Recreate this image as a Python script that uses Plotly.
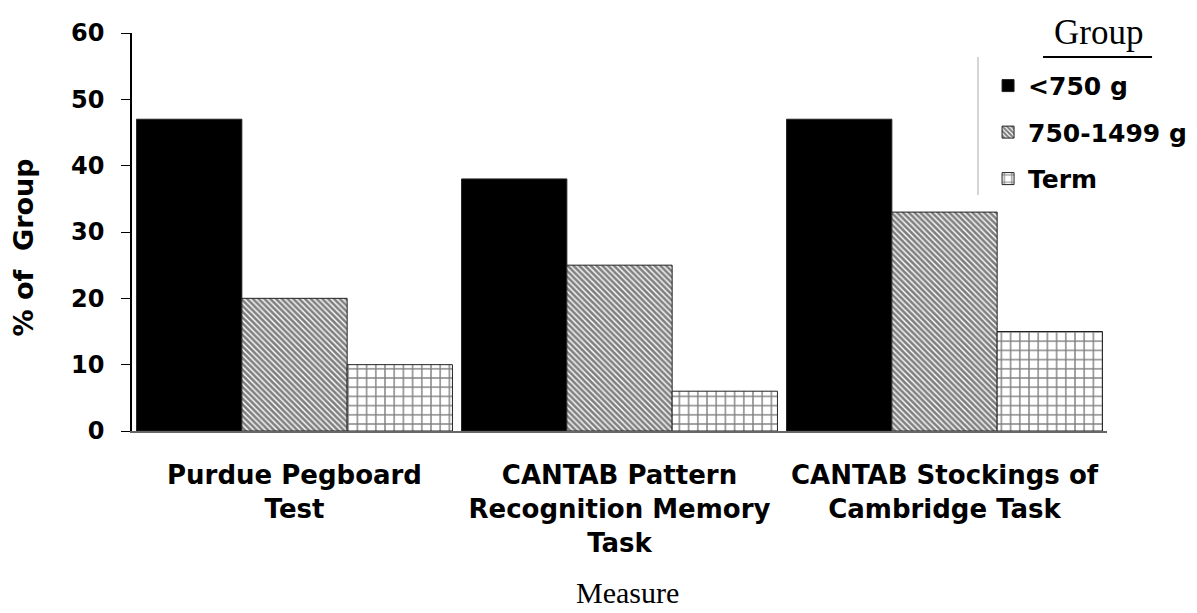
import plotly.graph_objects as go

categories = ["Purdue Pegboard<br>Test",
              "CANTAB Pattern<br>Recognition Memory<br>Task",
              "CANTAB Stockings of<br>Cambridge Task"]
groups = ["<750 g", "750-1499 g", "Term"]
vals_lt750 = [47, 38, 47]
vals_750_1499 = [20, 25, 33]
vals_term = [10, 6, 15]
y_ticks = [0, 10, 20, 30, 40, 50, 60]

series = [vals_lt750, vals_750_1499, vals_term]
patterns = [dict(shape=""),
            dict(shape="\\", size=4.1, solidity=0.65, fgcolor="black", bgcolor="white"),
            dict(shape="+", size=9.2, solidity=0.28, fgcolor="black", bgcolor="white")]
colors = ["black", "white", "white"]

SANS = "DejaVu Sans"
SERIF = "Liberation Serif, Times New Roman, serif"

fig = go.Figure()
for i, (name, vals) in enumerate(zip(groups, series)):
    fig.add_trace(go.Bar(
        x=categories, y=vals, name=name,
        legendgroup=name,
        marker=dict(color=colors[i], pattern=patterns[i],
                    line=dict(color="#222", width=1)),
    ))

fig.update_layout(
    width=1197, height=613,
    margin=dict(l=132, r=90, t=33, b=182, autoexpand=False),
    paper_bgcolor="white", plot_bgcolor="white",
    barmode="group", bargap=0.028, bargroupgap=0,
    font=dict(family=SANS, color="black"),
    showlegend=True,
    legend=dict(x=0.878, y=0.925, xanchor="left", yanchor="top",
                font=dict(family=SANS, size=25, weight="bold", color="black"),
                tracegroupgap=11, bgcolor="rgba(0,0,0,0)",
                itemclick=False),
    xaxis=dict(range=[-0.5, 2.5], showline=True, linecolor="#666", linewidth=2,
               ticks="", showgrid=False, automargin=False,
               tickfont=dict(family=SANS, size=26, weight="bold"),
               ticklabelstandoff=20),
    yaxis=dict(range=[0, 60], tickvals=y_ticks, showline=True, linecolor="black",
               linewidth=1.5, ticks="outside", ticklen=9, tickcolor="black",
               showgrid=False, zeroline=False, automargin=False,
               tickfont=dict(family=SANS, size=24, weight="bold"),
               ticklabelstandoff=12),
    annotations=[
        dict(text="%\u00a0of\u00a0\u00a0Group", textangle=-90, xref="paper", yref="paper",
             x=-0.1108, y=0.461, showarrow=False, xanchor="center", yanchor="middle",
             font=dict(family=SANS, size=27, weight="bold", color="black")),
        dict(text="Measure", xref="paper", yref="paper", x=0.5087, y=-0.407,
             showarrow=False, xanchor="center", yanchor="middle",
             font=dict(family=SERIF, size=30, color="black")),
        dict(text="Group", xref="paper", yref="paper", x=0.9908, y=1.001,
             showarrow=False, xanchor="center", yanchor="middle",
             font=dict(family=SERIF, size=35, color="black")),
    ],
    shapes=[
        dict(type="line", xref="paper", yref="paper", x0=0.9344, x1=1.0462,
             y0=0.9397, y1=0.9397, line=dict(color="black", width=2)),
        dict(type="line", xref="paper", yref="paper", x0=0.8677, x1=0.8677,
             y0=0.9397, y1=0.593, line=dict(color="#aaa", width=1)),
    ],
)

fig.write_html("out.html", config={"displayModeBar": False},
               post_script="document.body.style.margin='0';document.body.style.padding='0';")
